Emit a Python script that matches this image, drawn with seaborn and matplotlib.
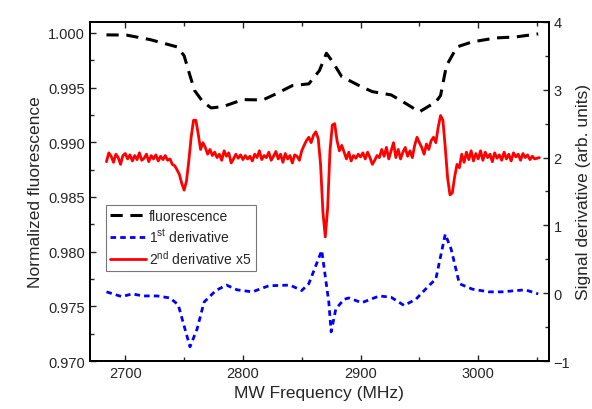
import numpy as np
import pandas as pd
import seaborn as sns
import matplotlib.pyplot as plt
from matplotlib.ticker import MultipleLocator

# fluorescence (left axis)
fl_freq = [2684, 2701, 2721, 2744, 2750, 2755, 2759, 2766, 2773, 2783, 2800, 2817, 2828,
           2842, 2856, 2865, 2871, 2876, 2884, 2901, 2910, 2926, 2939, 2950, 2964, 2968,
           2973, 2982, 2995, 3015, 3032, 3051]
fl_val = [0.99982, 0.9998, 0.99939, 0.99872, 0.99792, 0.9961, 0.99472, 0.99369, 0.99314,
          0.99326, 0.9939, 0.99387, 0.99442, 0.99518, 0.99534, 0.99655, 0.99814, 0.99740,
          0.9960, 0.99506, 0.99463, 0.99433, 0.99351, 0.99278, 0.99369, 0.99427, 0.997,
          0.99872, 0.99918, 0.99954, 0.99963, 0.99991]

# 1st derivative (right axis)
d1_freq = [2684, 2697, 2706, 2715, 2727, 2738, 2745, 2749, 2755, 2761, 2767, 2777, 2786,
           2795, 2808, 2822, 2840, 2850, 2856, 2867, 2873, 2875, 2879, 2886, 2890, 2901,
           2916, 2926, 2937, 2947, 2958, 2964, 2972, 2977, 2984, 2995, 3009, 3020, 3040, 3051]
d1_val = [0.02, -0.05, -0.01, -0.04, -0.04, -0.07, -0.17, -0.42, -0.79, -0.53, -0.13, 0.04,
          0.12, 0.05, 0.02, 0.11, 0.12, 0.04, 0.14, 0.63, -0.13, -0.57, -0.23, -0.09, -0.07,
          -0.14, -0.04, -0.06, -0.18, -0.09, 0.11, 0.21, 0.87, 0.65, 0.14, 0.06, 0.02, 0.02,
          0.05, -0.01]

# 2nd derivative x5 (right axis), 2 MHz steps from 2684 MHz
d2_val = [1.94, 2.07, 2.02, 1.93, 2.05, 2.00, 1.90, 2.03, 2.06, 1.98, 2.04, 1.95, 2.03, 1.97,
          2.07, 1.96, 1.99, 2.05, 1.94, 2.03, 1.98, 2.04, 1.95, 2.02, 1.97, 2.03, 1.96, 1.98,
          1.90, 1.88, 1.82,
          1.75, 1.62, 1.52, 1.65, 1.95, 2.30, 2.55, 2.55, 2.35, 2.12, 2.22, 2.15, 2.05, 2.12,
          2.03, 2.08, 2.00, 2.05, 1.96, 2.10, 2.02, 2.07, 1.92, 1.98, 2.05, 1.99, 2.04, 1.97,
          2.03, 1.98, 2.02, 1.95, 2.05, 2.00, 2.10, 1.97, 2.03, 2.00, 2.08, 1.96, 2.02, 2.09,
          1.98, 2.05, 1.93, 2.06, 1.98, 2.03, 1.92, 2.04, 2.02, 1.96, 2.10, 2.18, 2.25, 2.30,
          2.22, 2.33, 2.38, 2.28, 1.90, 1.20, 0.83, 1.25, 2.10, 2.48, 2.50, 2.25, 2.10, 2.18,
          2.08, 1.98, 2.08, 1.95, 2.03, 1.99, 2.05, 2.01, 2.07, 1.98, 2.08, 2.00, 1.90, 1.96,
          2.03, 2.00, 2.12, 2.02, 2.15, 1.98, 2.10, 2.22, 2.00, 2.12, 1.98, 2.08, 2.15, 2.02,
          2.10, 2.00, 2.18, 2.30, 2.22, 2.15, 2.05, 2.20, 2.12, 2.25, 2.30, 2.22, 2.45, 2.62,
          2.55, 2.15, 1.70, 1.45, 1.48, 1.72, 1.90, 1.85, 2.05, 1.93, 2.08, 1.97, 2.10, 1.95,
          2.06, 1.98, 2.10, 1.96, 2.08, 2.00, 2.05, 1.94, 2.07, 1.99, 2.04, 1.96, 2.08, 1.98,
          2.05, 1.95, 2.07, 2.01, 2.05, 1.96, 2.06, 2.00, 2.04, 1.97, 2.02, 1.98, 1.99, 2.00]
d2_freq = 2684 + 2 * np.arange(len(d2_val))

sns.set_style("ticks")
plt.rcParams['font.family'] = ['Liberation Sans', 'DejaVu Sans']
plt.rcParams['mathtext.default'] = 'regular'

fig = plt.figure(figsize=(5.92, 4.10), dpi=100)
ax = fig.add_axes([0.152, 0.117, 0.775, 0.827])
ax2 = ax.twinx()

sns.lineplot(x=fl_freq, y=fl_val, ax=ax, color='black', lw=2.2, label='fluorescence')
ax.lines[-1].set_dashes([4, 2.5])
sns.lineplot(x=d1_freq, y=d1_val, ax=ax2, color='#0000ff', lw=2.0, label='1$^{st}$ derivative')
ax2.lines[-1].set_dashes([2, 1.5])
sns.lineplot(x=d2_freq, y=d2_val, ax=ax2, color='#ff0000', lw=2.0, label='2$^{nd}$ derivative x5')

ax.set_xlim(2670, 3060)
ax.set_ylim(0.970, 1.001)
ax2.set_ylim(-1, 4)

ax.xaxis.set_major_locator(MultipleLocator(100))
ax.xaxis.set_minor_locator(MultipleLocator(50))
ax.yaxis.set_major_locator(MultipleLocator(0.005))
ax.yaxis.set_minor_locator(MultipleLocator(0.0025))
ax.yaxis.set_major_formatter(plt.FormatStrFormatter('%.3f'))
ax2.yaxis.set_major_locator(MultipleLocator(1))
ax2.yaxis.set_minor_locator(MultipleLocator(0.5))

for a in (ax, ax2):
    a.tick_params(which='both', direction='in', labelsize=10.5, width=1.0)
    a.tick_params(which='major', length=4)
    a.tick_params(which='minor', length=3)
    for s in a.spines.values():
        s.set_visible(True)
        s.set_linewidth(1.3)
        s.set_color('black')
ax.tick_params(which='both', top=True)

ax.set_xlabel('MW Frequency (MHz)', fontsize=12.5)
ax.set_ylabel('Normalized fluorescence', fontsize=12.5)
ax2.set_ylabel('Signal derivative (arb. units)', fontsize=12.5)

h1, l1 = ax.get_legend_handles_labels()
h2, l2 = ax2.get_legend_handles_labels()
ax2.get_legend().remove()
leg = ax.legend(h1 + h2, l1 + l2, loc='upper left', bbox_to_anchor=(0.035, 0.46),
                fontsize=10, frameon=True, fancybox=False, edgecolor='#555555',
                handlelength=2.6, handletextpad=0.2, borderpad=0.3, labelspacing=0.3,
                borderaxespad=0)
leg.get_frame().set_linewidth(0.8)
ax.set_zorder(ax2.get_zorder() + 1)
ax.patch.set_visible(False)

plt.savefig("out.png", dpi=100)
